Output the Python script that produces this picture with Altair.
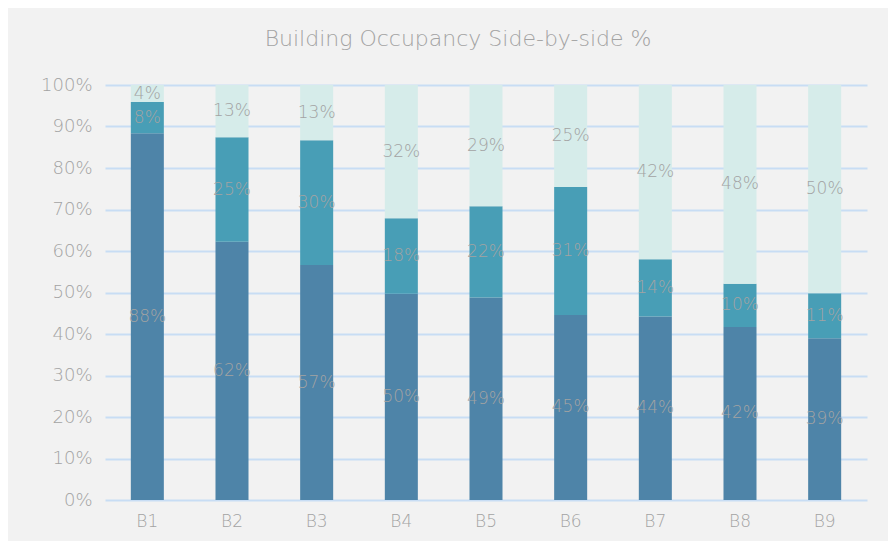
import altair as alt
import pandas as pd

buildings = ["B1", "B2", "B3", "B4", "B5", "B6", "B7", "B8", "B9"]
occupied = [88.4, 62.2, 56.6, 49.7, 48.8, 44.6, 44.2, 41.7, 39.0]
partial = [7.5, 25.2, 30.1, 18.2, 22.0, 30.8, 13.8, 10.4, 10.8]
vacant = [4.1, 12.6, 13.3, 32.1, 29.2, 24.6, 42.0, 47.9, 50.2]
series_names = ["Occupied", "Partial", "Vacant"]
colors = ["#4E84A8", "#489EB6", "#D6ECEA"]
y_ticks = [0, 10, 20, 30, 40, 50, 60, 70, 80, 90, 100]

rows = []
for i, b in enumerate(buildings):
    start = 0.0
    for k, vals in enumerate([occupied, partial, vacant]):
        v = vals[i]
        rows.append({
            "building": b,
            "series": series_names[k],
            "order": k,
            "start": start,
            "end": start + v,
            "mid": start + v / 2,
            "label": f"{round(v):d}%",
        })
        start += v
df = pd.DataFrame(rows)

FONT = "DejaVu Sans"
W = 200
GRAY = "#a3a3a3"

x_enc = alt.X(
    "building:N",
    sort=buildings,
    title=None,
    scale=alt.Scale(paddingInner=0.61, paddingOuter=0.305),
    axis=alt.Axis(labelAngle=0, labelFontSize=17, labelColor=GRAY, labelFont=FONT,
                  labelFontWeight=W, ticks=False, domain=False, labelPadding=13),
)
y_scale = alt.Scale(domain=[0, 100], nice=False)

bars = alt.Chart(df).mark_bar().encode(
    x=x_enc,
    y=alt.Y("start:Q", scale=y_scale, title=None,
            axis=alt.Axis(values=y_ticks, labelExpr="datum.value + '%'",
                          labelFontSize=18, labelColor=GRAY, labelFont=FONT,
                          labelFontWeight=W,
                          ticks=False, domain=False, labelPadding=13,
                          grid=True, gridColor="#C8DDF4", gridWidth=2)),
    y2="end:Q",
    color=alt.Color("series:N", scale=alt.Scale(domain=series_names, range=colors), legend=None),
)

labels = alt.Chart(df).mark_text(fontSize=17, color=GRAY, font=FONT, fontWeight=W,
                                 baseline="middle").encode(
    x=alt.X("building:N", sort=buildings),
    y=alt.Y("mid:Q", scale=y_scale),
    text="label:N",
)

chart = alt.layer(bars, labels).properties(
    width=762,
    height=415,
    padding={"left": 97, "top": 77, "right": 21, "bottom": 41},
    autosize=alt.AutoSizeParams(type="none"),
    title=alt.TitleParams("Building Occupancy Side-by-side %", fontSize=22, color=GRAY,
                          font=FONT, fontWeight=W, offset=25, dx=-28),
).configure(background="#F2F2F2").configure_view(stroke=None)

chart.save("out.html", embed_options={"renderer": "svg", "actions": False})
